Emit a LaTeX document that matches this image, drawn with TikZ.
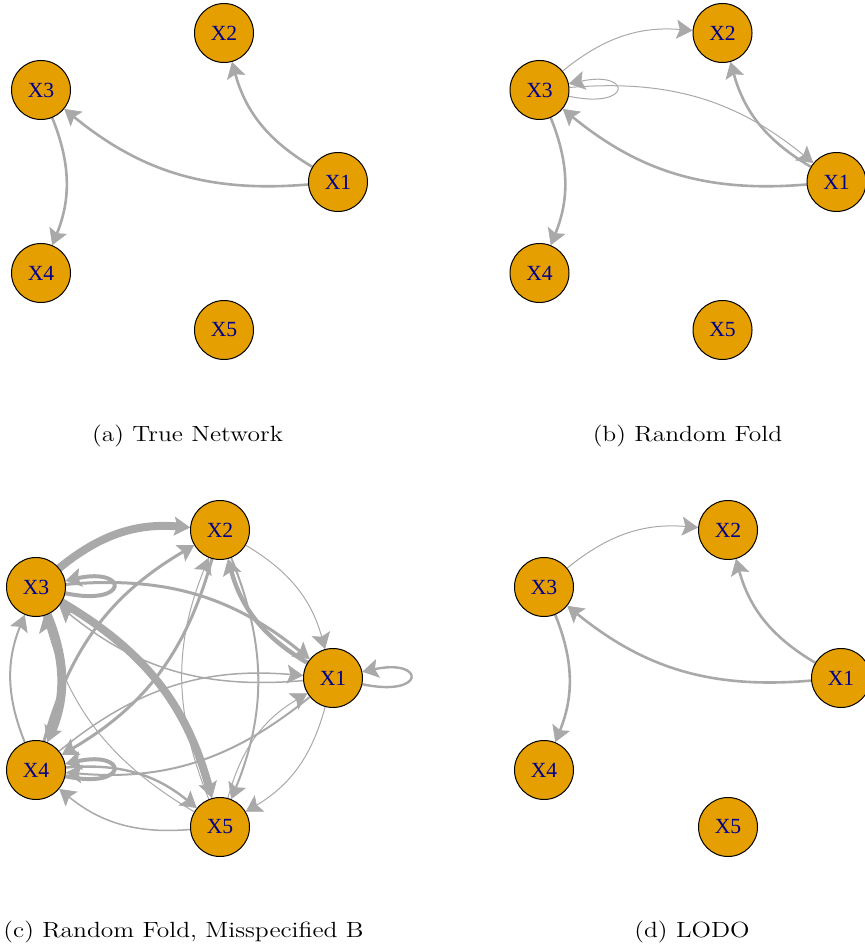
\documentclass[tikz,border=0pt]{standalone}
\usepackage{fontspec}
\newfontfamily\nodefont{Liberation Serif}
\usetikzlibrary{arrows.meta,backgrounds}
\definecolor{nfill}{RGB}{230,159,0}
\definecolor{ntext}{RGB}{0,0,139}
\definecolor{egray}{RGB}{169,169,169}
\tikzset{
  vtx/.style={circle,draw=black,line width=0.5pt,fill=nfill,minimum size=29.5pt,inner sep=0pt,
    font=\nodefont\fontsize{10.8}{12}\selectfont,text=ntext},
  tipstyle/.style={-{Stealth[length=8pt,width=9.5pt,inset=1.6pt,line width=0.3pt]}},
  edg/.style={draw=egray,tipstyle,bend left=22},
  lp/.style={draw=egray,tipstyle},
  thinedge/.style={line width=0.5pt},
  stdedge/.style={line width=1.3pt},
  captxt/.style={font=\fontsize{11}{13}\selectfont,xscale=1.16,anchor=base}
}
\begin{document}
\begin{tikzpicture}[x=0.5pt,y=0.5pt]
\useasboundingbox (0,0) rectangle (864,-951);

% ---------- panel (a)
\node[vtx] (a1) at (338,-182) {X1};
\node[vtx] (a2) at (224,-33) {X2};
\node[vtx] (a3) at (41,-90) {X3};
\node[vtx] (a4) at (41,-273) {X4};
\node[vtx] (a5) at (224,-330) {X5};
\begin{pgfonlayer}{background}
\draw[edg,stdedge] (a1) to (a3);
\draw[edg,stdedge] (a1) to (a2);
\draw[edg,stdedge] (a3) to (a4);
\end{pgfonlayer}

% ---------- panel (b)
\node[vtx] (b1) at (836.5,-182) {X1};
\node[vtx] (b2) at (722.5,-33) {X2};
\node[vtx] (b3) at (539.5,-90) {X3};
\node[vtx] (b4) at (539.5,-273) {X4};
\node[vtx] (b5) at (722.5,-330) {X5};
\begin{pgfonlayer}{background}
\draw[edg,stdedge] (b1) to (b3);
\draw[edg,stdedge] (b1) to (b2);
\draw[edg,stdedge] (b3) to (b4);
\draw[edg,thinedge] (b3) to (b2);
\draw[edg,thinedge] (b3) to (b1);
\draw[lp,thinedge] (b3.-12) .. controls +(-12:65) and +(12:65) .. (b3.12);
\end{pgfonlayer}

% ---------- panel (c)
\node[vtx] (c1) at (333,-678) {X1};
\node[vtx] (c2) at (220,-530) {X2};
\node[vtx] (c3) at (36,-587) {X3};
\node[vtx] (c4) at (36,-770) {X4};
\node[vtx] (c5) at (220,-827) {X5};
\begin{pgfonlayer}{background}
\draw[edg,line width=4pt] (c3) to (c2);
\draw[edg,line width=1.5pt] (c3) to (c1);
\draw[edg,line width=2.2pt] (c1) to (c2);
\draw[edg,line width=0.5pt] (c2) to (c1);
\draw[edg,line width=4pt] (c3) to (c5);
\draw[edg,line width=4.5pt] (c3) to (c4);
\draw[edg,line width=1pt] (c4) to (c3);
\draw[edg,line width=1.5pt] (c4) to (c2);
\draw[edg,line width=1.5pt] (c2) to (c4);
\draw[edg,line width=1pt] (c2) to (c5);
\draw[edg,line width=0.5pt] (c5) to (c2);
\draw[edg,line width=0.75pt] (c1) to (c3);
\draw[edg,line width=0.75pt] (c4) to (c1);
\draw[edg,line width=1pt] (c1) to (c4);
\draw[edg,line width=1.2pt] (c4) to (c5);
\draw[edg,line width=0.75pt] (c5) to (c4);
\draw[edg,line width=0.5pt] (c1) to (c5);
\draw[edg,line width=0.5pt] (c5) to (c1);
\draw[edg,line width=0.5pt] (c5) to (c3);
\draw[lp,line width=2pt] (c3.-12) .. controls +(-12:65) and +(12:65) .. (c3.12);
\draw[lp,line width=2pt] (c4.-12) .. controls +(-12:65) and +(12:65) .. (c4.12);
\draw[lp,line width=1.2pt] (c1.-12) .. controls +(-12:65) and +(12:65) .. (c1.12);
\end{pgfonlayer}

% ---------- panel (d)
\node[vtx] (d1) at (841,-678) {X1};
\node[vtx] (d2) at (728,-530) {X2};
\node[vtx] (d3) at (544,-587) {X3};
\node[vtx] (d4) at (544,-770) {X4};
\node[vtx] (d5) at (728,-827) {X5};
\begin{pgfonlayer}{background}
\draw[edg,stdedge] (d1) to (d3);
\draw[edg,stdedge] (d1) to (d2);
\draw[edg,stdedge] (d3) to (d4);
\draw[edg,thinedge] (d3) to (d2);
\end{pgfonlayer}

% ---------- captions
\node[captxt] (capa) at (187.5,-441) {(a) True Network};
\node[captxt] (capb) at (687.5,-441) {(b) Random Fold};
\node[captxt] (capc) at (183.5,-937) {(c) Random Fold, Misspecified B};
\node[captxt] (capd) at (692,-937) {(d) LODO};
\end{tikzpicture}
\end{document}
